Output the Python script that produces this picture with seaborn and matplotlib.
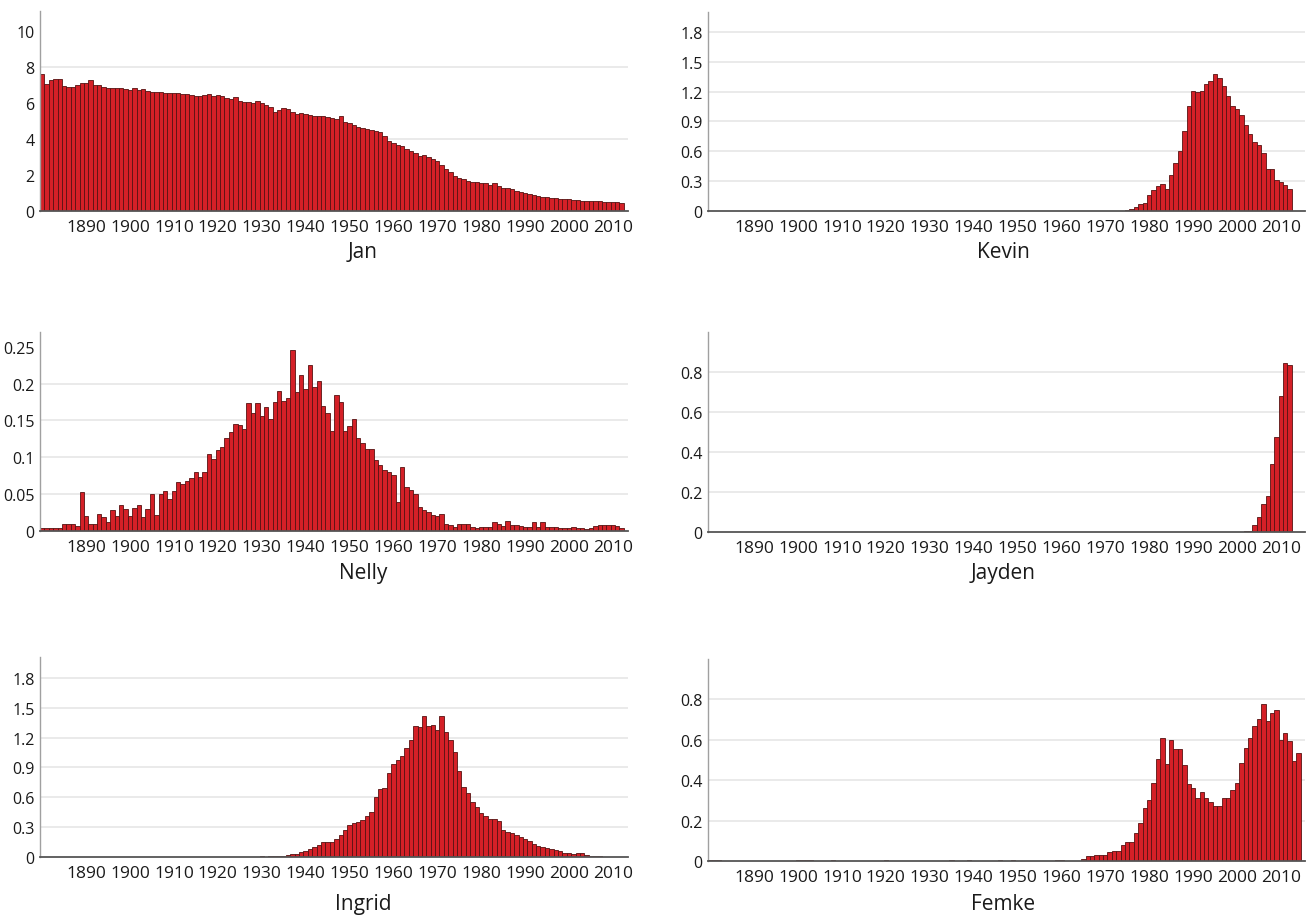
import numpy as np
import seaborn as sns
import matplotlib.pyplot as plt
from matplotlib.ticker import FuncFormatter

# --- values (share per year, 1880 onwards) ---
jan = [
    7.6, 7.05, 7.25, 7.35, 7.3, 6.95, 6.9, 6.9, 7.0, 7.1,
    7.1, 7.25, 7.0, 7.0, 6.9, 6.8, 6.8, 6.85, 6.8, 6.75,
    6.7, 6.8, 6.7, 6.75, 6.65, 6.6, 6.6, 6.6, 6.55, 6.55,
    6.55, 6.55, 6.5, 6.5, 6.45, 6.4, 6.4, 6.45, 6.5, 6.4,
    6.45, 6.4, 6.25, 6.2, 6.3, 6.1, 6.05, 6.05, 6.0, 6.1,
    6.0, 5.9, 5.75, 5.5, 5.6, 5.7, 5.65, 5.5, 5.4, 5.45,
    5.4, 5.35, 5.3, 5.3, 5.3, 5.2, 5.15, 5.1, 5.25, 4.95,
    4.9, 4.8, 4.65, 4.6, 4.55, 4.5, 4.45, 4.4, 4.15, 3.9,
    3.8, 3.65, 3.6, 3.45, 3.35, 3.2, 3.05, 3.1, 3.0, 2.9,
    2.8, 2.55, 2.35, 2.15, 1.95, 1.85, 1.75, 1.65, 1.6, 1.6,
    1.55, 1.55, 1.45, 1.55, 1.4, 1.3, 1.3, 1.2, 1.1, 1.05,
    1.0, 0.95, 0.9, 0.85, 0.8, 0.78, 0.72, 0.7, 0.68, 0.68,
    0.66, 0.63, 0.6, 0.58, 0.56, 0.55, 0.54, 0.53, 0.52, 0.5,
    0.5, 0.48, 0.45,
]

kevin = [
    0, 0, 0, 0, 0, 0, 0, 0, 0, 0,
    0, 0, 0, 0, 0, 0, 0, 0, 0, 0,
    0, 0, 0, 0, 0, 0, 0, 0, 0, 0,
    0, 0, 0, 0, 0, 0, 0, 0, 0, 0,
    0, 0, 0, 0, 0, 0, 0, 0, 0, 0,
    0, 0, 0, 0, 0, 0, 0, 0, 0, 0,
    0, 0, 0, 0, 0, 0, 0, 0, 0, 0,
    0, 0, 0, 0, 0, 0, 0, 0, 0, 0,
    0, 0, 0, 0, 0, 0, 0, 0, 0, 0,
    0, 0, 0, 0.003, 0.005, 0.01, 0.02, 0.04, 0.07, 0.08,
    0.16, 0.21, 0.25, 0.27, 0.22, 0.36, 0.48, 0.6, 0.8, 1.06,
    1.21, 1.2, 1.21, 1.28, 1.31, 1.38, 1.34, 1.26, 1.16, 1.06,
    1.03, 0.96, 0.86, 0.77, 0.69, 0.66, 0.58, 0.42, 0.42, 0.31,
    0.29, 0.26, 0.22,
]

nelly = [
    0.004, 0.004, 0.004, 0.004, 0.004, 0.01, 0.01, 0.01, 0.007, 0.053,
    0.02, 0.01, 0.01, 0.023, 0.019, 0.012, 0.028, 0.021, 0.035, 0.03,
    0.021, 0.031, 0.035, 0.019, 0.03, 0.05, 0.022, 0.05, 0.054, 0.044,
    0.054, 0.066, 0.064, 0.068, 0.072, 0.08, 0.073, 0.08, 0.105, 0.098,
    0.11, 0.114, 0.126, 0.135, 0.145, 0.144, 0.138, 0.174, 0.16, 0.173,
    0.156, 0.168, 0.152, 0.175, 0.19, 0.176, 0.18, 0.246, 0.188, 0.212,
    0.192, 0.225, 0.196, 0.203, 0.169, 0.16, 0.136, 0.184, 0.175, 0.136,
    0.143, 0.152, 0.126, 0.12, 0.111, 0.111, 0.097, 0.09, 0.083, 0.08,
    0.076, 0.04, 0.087, 0.06, 0.055, 0.05, 0.033, 0.029, 0.026, 0.022,
    0.021, 0.023, 0.01, 0.008, 0.005, 0.009, 0.009, 0.009, 0.006, 0.004,
    0.005, 0.005, 0.005, 0.012, 0.01, 0.007, 0.013, 0.008, 0.008, 0.007,
    0.005, 0.006, 0.012, 0.006, 0.012, 0.006, 0.005, 0.005, 0.004, 0.004,
    0.004, 0.005, 0.004, 0.004, 0.003, 0.004, 0.007, 0.008, 0.008, 0.008,
    0.008, 0.007, 0.004,
]

jayden = [
    0, 0, 0, 0, 0, 0, 0, 0, 0, 0,
    0, 0, 0, 0, 0, 0, 0, 0, 0, 0,
    0, 0, 0, 0, 0, 0, 0, 0, 0, 0,
    0, 0, 0, 0, 0, 0, 0, 0, 0, 0,
    0, 0, 0, 0, 0, 0, 0, 0, 0, 0,
    0, 0, 0, 0, 0, 0, 0, 0, 0, 0,
    0, 0, 0, 0, 0, 0, 0, 0, 0, 0,
    0, 0, 0, 0, 0, 0, 0, 0, 0, 0,
    0, 0, 0, 0, 0, 0, 0, 0, 0, 0,
    0, 0, 0, 0, 0, 0, 0, 0, 0, 0,
    0, 0, 0, 0, 0, 0, 0, 0, 0, 0,
    0, 0, 0, 0, 0, 0, 0, 0, 0, 0.001,
    0.002, 0.002, 0.003, 0.005, 0.033, 0.075, 0.14, 0.18, 0.34, 0.475,
    0.68, 0.845, 0.835,
]

ingrid = [
    0.003, 0.003, 0.003, 0.003, 0.003, 0.003, 0.003, 0.003, 0.003, 0.003,
    0.003, 0.003, 0.003, 0.003, 0.003, 0.003, 0.003, 0.003, 0.003, 0.003,
    0.003, 0.003, 0.003, 0.003, 0.003, 0.003, 0.003, 0.003, 0.003, 0.003,
    0.003, 0.003, 0.003, 0.003, 0.003, 0.003, 0.003, 0.003, 0.003, 0.003,
    0.003, 0.003, 0.003, 0.003, 0.003, 0.003, 0.003, 0.003, 0.004, 0.005,
    0.006, 0.005, 0.006, 0.01, 0.013, 0.015, 0.02, 0.027, 0.035, 0.05,
    0.064, 0.08, 0.1, 0.12, 0.15, 0.15, 0.155, 0.18, 0.22, 0.27,
    0.32, 0.34, 0.35, 0.37, 0.41, 0.45, 0.6, 0.68, 0.69, 0.84,
    0.93, 0.97, 1.02, 1.1, 1.18, 1.32, 1.31, 1.42, 1.32, 1.33,
    1.28, 1.42, 1.26, 1.18, 1.06, 0.86, 0.7, 0.64, 0.55, 0.5,
    0.44, 0.41, 0.38, 0.38, 0.36, 0.27, 0.25, 0.24, 0.22, 0.2,
    0.18, 0.16, 0.13, 0.11, 0.1, 0.09, 0.08, 0.07, 0.06, 0.045,
    0.04, 0.035, 0.04, 0.04, 0.025, 0.015, 0.01, 0.007, 0.005, 0.004,
    0.004, 0.003, 0.003,
]

femke = [
    0.004, 0.004, 0.004, 0.001, 0.001, 0.001, 0.001, 0.001, 0.001, 0.001,
    0.001, 0.001, 0.001, 0.001, 0.001, 0.001, 0.001, 0.001, 0.001, 0.001,
    0.004, 0.004, 0.004, 0.004, 0.001, 0.001, 0.001, 0.001, 0.004, 0.001,
    0.001, 0.001, 0.001, 0.001, 0.001, 0.001, 0.001, 0.001, 0.001, 0.001,
    0.004, 0.001, 0.001, 0.001, 0.001, 0.001, 0.001, 0.001, 0.001, 0.001,
    0.001, 0.001, 0.001, 0.001, 0.001, 0.004, 0.001, 0.001, 0.001, 0.004,
    0.001, 0.001, 0.001, 0.001, 0.001, 0.001, 0.004, 0.001, 0.001, 0.004,
    0.001, 0.001, 0.001, 0.001, 0.001, 0.001, 0.001, 0.001, 0.001, 0.004,
    0.004, 0.001, 0.001, 0.001, 0.001, 0.01, 0.026, 0.026, 0.031, 0.031,
    0.031, 0.046, 0.05, 0.05, 0.08, 0.095, 0.095, 0.14, 0.186, 0.26,
    0.3, 0.385, 0.507, 0.61, 0.48, 0.6, 0.553, 0.553, 0.474, 0.38,
    0.36, 0.314, 0.34, 0.314, 0.293, 0.273, 0.273, 0.31, 0.31, 0.352,
    0.385, 0.484, 0.561, 0.61, 0.668, 0.705, 0.775, 0.693, 0.734, 0.75,
    0.6, 0.635, 0.594, 0.495, 0.533,
]

names = ["Jan", "Kevin", "Nelly", "Jayden", "Ingrid", "Femke"]
series = [jan, kevin, nelly, jayden, ingrid, femke]
first_year = 1880
decade_ticks = list(range(1890, 2011, 10))

y_ticks = [
    [0, 2, 4, 6, 8, 10],
    [0, 0.3, 0.6, 0.9, 1.2, 1.5, 1.8],
    [0, 0.05, 0.1, 0.15, 0.2, 0.25],
    [0, 0.2, 0.4, 0.6, 0.8],
    [0, 0.3, 0.6, 0.9, 1.2, 1.5, 1.8],
    [0, 0.2, 0.4, 0.6, 0.8],
]
grid_lines = [
    [4, 8],
    [0.3, 0.6, 0.9, 1.2, 1.5, 1.8],
    [0.05, 0.1, 0.15, 0.2],
    [0.2, 0.4, 0.6, 0.8],
    [0.3, 0.6, 0.9, 1.2, 1.5, 1.8],
    [0.2, 0.4, 0.6, 0.8],
]
y_tops = [11.1, 2.0, 0.27, 1.0, 2.01, 1.0]

# --- layout (pixels in a 1308x920 canvas) ---
W, H = 1308, 920
# left, zero-line y, top y, right x
boxes = [
    (40, 212, 12, 628),
    (708, 212, 13, 1305),
    (40, 532, 333, 628),
    (708, 533, 333, 1305),
    (40, 858, 658, 628),
    (708, 862, 660, 1305),
]
label_pos = [(363, 252), (1003, 252), (363, 574), (1003, 574), (363, 905), (1003, 905)]

BAR = "#d42027"
EDGE = "#561212"

sns.set_style("white")
plt.rcParams["font.family"] = ["Open Sans", "DejaVu Sans"]

fig = plt.figure(figsize=(W / 100, H / 100), dpi=100)

for i, vals in enumerate(series):
    left, zero_y, top_y, right = boxes[i]
    ax = fig.add_axes([left / W, 1 - zero_y / H, (right - left) / W, (zero_y - top_y) / H])
    years = np.arange(first_year, first_year + len(vals))

    sns.barplot(x=years, y=vals, native_scale=True, width=1.0, color=BAR,
                edgecolor=EDGE, linewidth=0.6, saturation=1, errorbar=None, ax=ax)

    for g in grid_lines[i]:
        ax.axhline(g, color="#e8e8e8", lw=1.3, zorder=0.5)

    # same year scale in every panel
    px_per_year = 4.39
    ax.set_xlim(1879.5, 1879.5 + (right - left) / px_per_year)
    ax.set_ylim(0, y_tops[i])

    ax.set_xticks(decade_ticks)
    ax.set_xticklabels([str(y) for y in decade_ticks])
    ax.set_yticks(y_ticks[i])
    ax.yaxis.set_major_formatter(FuncFormatter(lambda v, p: f"{v:g}"))
    ax.tick_params(axis="x", length=3, width=1, color="#555555", pad=3,
                   labelsize=12.5, labelcolor="#1a1a1a")
    ax.tick_params(axis="y", length=0, pad=4, labelsize=11.5, labelcolor="#1a1a1a")
    ax.set_xlabel("")
    ax.set_ylabel("")

    for side in ["top", "right"]:
        ax.spines[side].set_visible(False)
    ax.spines["left"].set_color("#a0a0a0")
    ax.spines["left"].set_linewidth(1.0)
    ax.spines["bottom"].set_color("#555555")
    ax.spines["bottom"].set_linewidth(1.3)

    lx, ly = label_pos[i]
    fig.text(lx / W, 1 - ly / H, names[i], ha="center", va="center",
             fontsize=15, color="#1a1a1a")

fig.savefig("out.png", dpi=100)
